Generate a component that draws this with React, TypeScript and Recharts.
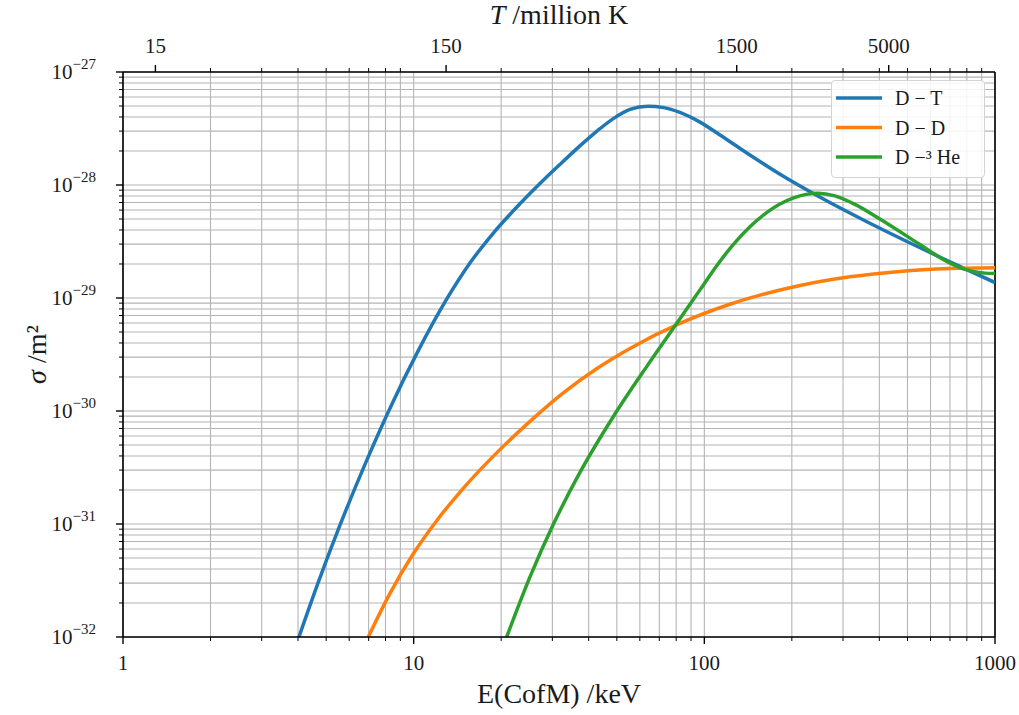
import React from "react";
import {
  LineChart,
  Line,
  XAxis,
  YAxis,
  CartesianGrid,
  Legend,
  ReferenceLine,
} from "recharts";

// (log-log), E in keV, sigma in m^2
const dtEnergy = [4.03, 4.72, 5.53, 6.8, 8.29, 10.35, 12.91, 15.62, 18.74, 22.48, 27.2, 31.86, 37.33, 42.72, 48.49, 55.48, 63.97, 72.6, 82.4, 96.6, 113.2, 143.5, 186.4, 244, 362.5, 538.6, 699.7, 1000];
const dtSigma = [1.0e-32, 3.15e-32, 9.22e-32, 3.37e-31, 1.06e-30, 3.39e-30, 9.52e-30, 2.04e-29, 3.72e-29, 6.25e-29, 1.03e-28, 1.52e-28, 2.22e-28, 3.0e-28, 3.85e-28, 4.66e-28, 4.98e-28, 4.84e-28, 4.39e-28, 3.6e-28, 2.77e-28, 1.84e-28, 1.2e-28, 8.07e-29, 4.73e-29, 2.87e-29, 2.09e-29, 1.37e-29];

const ddEnergy = [6.98, 8.29, 9.97, 12.0, 14.81, 19.3, 25.13, 32.64, 42.72, 55.48, 82.4, 122.5, 213.3, 316.9, 470.9, 699.7, 1000];
const ddSigma = [1.0e-32, 2.43e-32, 5.45e-32, 1.07e-31, 2.07e-31, 4.26e-31, 8.1e-31, 1.44e-30, 2.38e-30, 3.58e-30, 5.96e-30, 8.81e-30, 1.29e-29, 1.54e-29, 1.72e-29, 1.82e-29, 1.85e-29];

const dheEnergy = [20.89, 25.13, 30.21, 37.33, 48.6, 63.33, 80.3, 96.6, 110.5, 125.7, 143.5, 164.2, 182.0, 201.7, 221.9, 245.9, 281.4, 329.8, 401.8, 551.7, 672.4, 787.9, 923.3, 1000];
const dheSigma = [1.0e-32, 3.4e-32, 9.88e-32, 2.86e-31, 8.9e-31, 2.47e-30, 5.94e-30, 1.18e-29, 1.94e-29, 2.97e-29, 4.28e-29, 5.72e-29, 6.78e-29, 7.66e-29, 8.22e-29, 8.45e-29, 8.01e-29, 6.73e-29, 5.0e-29, 2.97e-29, 2.15e-29, 1.79e-29, 1.66e-29, 1.65e-29];

const seriesNames = ["D \u2212 T", "D \u2212 D", "D \u2212\u00B3 He"];
const seriesColors = ["#1f77b4", "#ff7f0e", "#2ca02c"];

// axis ticks
const energyMajor = [1, 10, 100, 1000];
const sigmaMajor = [1e-32, 1e-31, 1e-30, 1e-29, 1e-28, 1e-27];
const tempLabels = [15, 150, 1500, 5000]; // million K
const KEV_TO_MK = 11.6045;
const minorSteps = [2, 3, 4, 5, 6, 7, 8, 9];

const energyMinor = energyMajor.slice(0, -1).flatMap((d) => minorSteps.map((m) => m * d));
const sigmaMinor = sigmaMajor.slice(0, -1).flatMap((d) => minorSteps.map((m) => m * d));
const energyTicks = [...energyMajor, ...energyMinor].sort((a, b) => a - b);
const sigmaTicks = [...sigmaMajor, ...sigmaMinor].sort((a, b) => a - b);
const tempTicks = tempLabels.map((t) => t / KEV_TO_MK);
const topTicks = [...tempTicks, ...energyMinor].sort((a, b) => a - b);

const toPoints = (xs: number[], ys: number[]) => xs.map((energy, i) => ({ energy, sigma: ys[i] }));
const dtData = toPoints(dtEnergy, dtSigma);
const ddData = toPoints(ddEnergy, ddSigma);
const dheData = toPoints(dheEnergy, dheSigma);

const W = 1019;
const H = 715;
const PLOT_LEFT = 123;
const PLOT_RIGHT = 995;
const PLOT_TOP = 72;
const PLOT_BOTTOM = 637;
const FONT = "'Liberation Serif', 'DejaVu Serif', serif";
const INK = "#1a1a1a";

const near = (a: number, b: number) => Math.abs(a / b - 1) < 1e-6;

function EnergyTick(props: any) {
  const { x, payload } = props;
  const major = energyMajor.some((v) => near(v, payload.value));
  return (
    <g>
      <line x1={x} x2={x} y1={PLOT_BOTTOM} y2={PLOT_BOTTOM + (major ? 7 : 4)} stroke="#000" strokeWidth={major ? 1.4 : 1} />
      {major && (
        <text x={x} y={PLOT_BOTTOM + 33} textAnchor="middle" fontFamily={FONT} fontSize={21} fill={INK}>
          {payload.value}
        </text>
      )}
    </g>
  );
}

function TempTick(props: any) {
  const { x, payload } = props;
  const idx = tempTicks.findIndex((v) => near(v, payload.value));
  const major = idx >= 0;
  return (
    <g>
      <line x1={x} x2={x} y1={PLOT_TOP} y2={PLOT_TOP - (major ? 7 : 4)} stroke="#000" strokeWidth={major ? 1.4 : 1} />
      {major && (
        <text x={x} y={PLOT_TOP - 19} textAnchor="middle" fontFamily={FONT} fontSize={21} fill={INK}>
          {tempLabels[idx]}
        </text>
      )}
    </g>
  );
}

function SigmaTick(props: any) {
  const { y, payload } = props;
  const exp = Math.round(Math.log10(payload.value));
  const major = sigmaMajor.some((v) => near(v, payload.value));
  return (
    <g>
      <line x1={PLOT_LEFT} x2={PLOT_LEFT - (major ? 7 : 4)} y1={y} y2={y} stroke="#000" strokeWidth={major ? 1.4 : 1} />
      {major && (
        <text x={PLOT_LEFT - 27} y={y + 7} textAnchor="end" fontFamily={FONT} fontSize={21} fill={INK}>
          10
          <tspan dy={-10} fontSize={15}>
            {"\u2212" + Math.abs(exp)}
          </tspan>
        </text>
      )}
    </g>
  );
}

const BottomTitle = () => (
  <text x={(PLOT_LEFT + PLOT_RIGHT) / 2} y={703} textAnchor="middle" fontFamily={FONT} fontSize={28} fill={INK}>
    E(CofM) /keV
  </text>
);

const TopTitle = () => (
  <text x={(PLOT_LEFT + PLOT_RIGHT) / 2} y={24} textAnchor="middle" fontFamily={FONT} fontSize={28} fill={INK}>
    <tspan fontStyle="italic">T</tspan> /million K
  </text>
);

const SideTitle = () => (
  <text
    x={36}
    y={(PLOT_TOP + PLOT_BOTTOM) / 2}
    transform={`rotate(-90, 36, ${(PLOT_TOP + PLOT_BOTTOM) / 2})`}
    textAnchor="middle"
    dominantBaseline="central"
    fontFamily={FONT}
    fontSize={28}
    fill={INK}
  >
    <tspan fontStyle="italic">{"\u03C3"}</tspan> /m{"\u00B2"}
  </text>
);

function LegendBox() {
  return (
    <div
      style={{
        width: 154,
        height: 98,
        boxSizing: "border-box",
        background: "rgba(255,255,255,0.85)",
        border: "1px solid #d4d4d4",
        borderRadius: 4,
      }}
    >
      <svg width={152} height={96} style={{ display: "block" }}>
        {seriesNames.map((name, i) => (
          <g key={name}>
            <line x1={4} x2={50} y1={17 + i * 29.5} y2={17 + i * 29.5} stroke={seriesColors[i]} strokeWidth={3.5} />
            <text x={63} y={24 + i * 29.5} fontFamily={FONT} fontSize={20} fill={INK}>
              {name}
            </text>
          </g>
        ))}
      </svg>
    </div>
  );
}

export default function App() {
  return (
    <div style={{ position: "absolute", left: 0, top: 0 }}>
      <LineChart width={W} height={H} margin={{ top: 0, right: W - PLOT_RIGHT, bottom: 0, left: 0 }}>
        <CartesianGrid xAxisId="bottom" stroke="#b4b4b4" strokeWidth={1.1} />
        <XAxis
          xAxisId="bottom"
          dataKey="energy"
          type="number"
          scale="log"
          domain={[1, 1000]}
          allowDataOverflow
          ticks={energyTicks}
          interval={0}
          tick={<EnergyTick />}
          tickLine={false}
          axisLine={{ stroke: "#000", strokeWidth: 1.6 }}
          height={H - PLOT_BOTTOM}
          label={<BottomTitle />}
        />
        <XAxis
          xAxisId="top"
          dataKey="energy"
          orientation="top"
          type="number"
          scale="log"
          domain={[1, 1000]}
          allowDataOverflow
          ticks={topTicks}
          interval={0}
          tick={<TempTick />}
          tickLine={false}
          axisLine={{ stroke: "#000", strokeWidth: 1.6 }}
          height={PLOT_TOP}
          label={<TopTitle />}
        />
        <YAxis
          type="number"
          scale="log"
          domain={[1e-32, 1e-27]}
          allowDataOverflow
          ticks={sigmaTicks}
          interval={0}
          tick={<SigmaTick />}
          tickLine={false}
          axisLine={{ stroke: "#000", strokeWidth: 1.6 }}
          width={PLOT_LEFT}
          label={<SideTitle />}
        />
        <ReferenceLine xAxisId="bottom" x={1000} stroke="#000" strokeWidth={1.6} />
        <Legend
          layout="vertical"
          verticalAlign="middle"
          align="center"
          wrapperStyle={{ left: 831, top: 80, width: 154, height: 98 }}
          content={<LegendBox />}
        />
        {/* carries the temperature axis; draws nothing */}
        <Line xAxisId="top" data={dtData} dataKey="sigma" stroke="none" legendType="none" dot={false} activeDot={false} isAnimationActive={false} />
        <Line xAxisId="bottom" data={dtData} dataKey="sigma" name={seriesNames[0]} type="monotone" stroke={seriesColors[0]} strokeWidth={3.5} dot={false} isAnimationActive={false} />
        <Line xAxisId="bottom" data={ddData} dataKey="sigma" name={seriesNames[1]} type="monotone" stroke={seriesColors[1]} strokeWidth={3.5} dot={false} isAnimationActive={false} />
        <Line xAxisId="bottom" data={dheData} dataKey="sigma" name={seriesNames[2]} type="monotone" stroke={seriesColors[2]} strokeWidth={3.5} dot={false} isAnimationActive={false} />
      </LineChart>
    </div>
  );
}
